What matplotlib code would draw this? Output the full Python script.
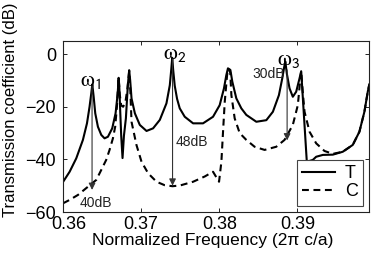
import matplotlib
matplotlib.use('Agg')
import matplotlib.pyplot as plt
from matplotlib.transforms import ScaledTranslation

plt.rcParams.update({'font.family': ['Liberation Sans', 'DejaVu Sans'], 'mathtext.fontset': 'stix'})

# transmission T (solid)
t_freq = [0.36000, 0.36085, 0.36170, 0.36255, 0.36307, 0.36340, 0.36362, 0.36375, 0.36392, 0.36413,
          0.36447, 0.36490, 0.36532, 0.36575, 0.36630, 0.36673, 0.36700, 0.36712, 0.36720, 0.36732,
          0.36745, 0.36762, 0.36780, 0.36805, 0.36830, 0.36847, 0.36860, 0.36877, 0.36920, 0.36983,
          0.37069, 0.37153, 0.37239, 0.37324, 0.37367, 0.37385, 0.37398, 0.37410, 0.37430, 0.37460,
          0.37494, 0.37558, 0.37665, 0.37792, 0.37920, 0.38005, 0.38060, 0.38090, 0.38111, 0.38142,
          0.38167, 0.38218, 0.38282, 0.38346, 0.38474, 0.38602, 0.38686, 0.38763, 0.38806, 0.38830,
          0.38845, 0.38865, 0.38899, 0.38941, 0.38984, 0.39027, 0.39048, 0.39120, 0.39197, 0.39240,
          0.39325, 0.39453, 0.39580, 0.39708, 0.39793, 0.39857, 0.39900, 0.39920]
t_db = [-48.6, -44.7, -39.6, -32.6, -26.3, -20.0, -14.9, -11.5, -16.0, -22.5,
        -27.6, -30.7, -32.0, -31.4, -28.2, -22.5, -15.0, -9.0, -12.0, -21.3,
        -31.0, -39.5, -31.0, -24.4, -11.8, -6.1, -10.0, -16.8, -22.5, -26.9,
        -29.2, -28.2, -25.0, -18.7, -11.8, -6.0, -1.4, -6.0, -12.0, -17.0,
        -20.6, -23.8, -26.3, -26.3, -23.8, -19.4, -13.0, -8.0, -5.4, -6.0,
        -10.5, -16.8, -20.6, -23.1, -25.7, -25.1, -21.9, -15.6, -9.2, -5.0,
        -2.8, -7.5, -13.0, -16.2, -14.3, -9.2, -6.5, -40.9, -40.2, -39.0,
        -38.3, -38.2, -37.1, -34.5, -29.5, -21.9, -14.3, -11.5]

# C (dashed)
c_freq = [0.36000, 0.36085, 0.36192, 0.36319, 0.36426, 0.36490, 0.36553, 0.36596, 0.36639, 0.36668,
          0.36690, 0.36705, 0.36712, 0.36725, 0.36745, 0.36770, 0.36800, 0.36825, 0.36847, 0.36862,
          0.36877, 0.36940, 0.37005, 0.37090, 0.37197, 0.37300, 0.37402, 0.37500, 0.37665, 0.37814,
          0.37920, 0.37997, 0.38027, 0.38048, 0.38070, 0.38100, 0.38115, 0.38140, 0.38155, 0.38197,
          0.38261, 0.38346, 0.38452, 0.38580, 0.38729, 0.38835, 0.38941, 0.39005, 0.39035, 0.39048,
          0.39070, 0.39091, 0.39155, 0.39240, 0.39346, 0.39453, 0.39580, 0.39708, 0.39793, 0.39857,
          0.39900, 0.39920]
c_db = [-56.7, -55.4, -53.5, -50.4, -47.8, -44.0, -40.2, -36.4, -32.0, -27.6,
        -20.0, -12.0, -9.0, -15.0, -19.5, -20.0, -18.0, -13.0, -6.5, -14.0,
        -25.7, -34.5, -40.9, -45.3, -48.5, -49.8, -50.2, -49.9, -48.5, -46.5,
        -44.7, -48.5, -40.9, -29.5, -18.1, -8.0, -5.5, -7.0, -15.6, -24.4,
        -30.0, -32.6, -35.2, -36.4, -35.2, -32.6, -26.9, -19.4, -10.0, -6.5,
        -15.0, -21.9, -29.5, -33.9, -36.8, -37.9, -37.1, -34.5, -29.5, -21.9,
        -14.3, -11.5]

# contrast arrows: (freq, from dB, to dB, label, label x, label y)
arrows = [(0.36372, -12.0, -51.6, '40dB', 0.36415, -56.6),
          (0.37402, -1.6, -50.0, '48dB', 0.37644, -33.5),
          (0.38868, -6.0, -32.8, '30dB', 0.38631, -7.6)]
peaks = [(r'$\mathrm{\omega}_\mathsf{1}$', 0.36355, -10.0),
         (r'$\mathrm{\omega}_\mathsf{2}$', 0.37428, 0.2),
         (r'$\mathrm{\omega}_\mathsf{3}$', 0.38890, -1.9)]

fig = plt.figure(figsize=(3.74, 2.61), dpi=100)
ax = fig.add_axes([0.1684, 0.1877, 0.8191, 0.6553])
ax.plot(t_freq, t_db, color='black', lw=1.5, label='T')
ax.plot(c_freq, c_db, color='black', lw=1.5, ls=(0, (3.3, 2.2)), label='C')
for f, y0, y1, lab, lx, ly in arrows:
    ax.annotate('', xy=(f, y1), xytext=(f, y0),
                arrowprops=dict(arrowstyle='-|>', color='#333333', lw=0.8, mutation_scale=10,
                                shrinkA=0, shrinkB=0))
    ax.text(lx, ly, lab, ha='center', va='center', fontsize=10, color='#222222')
for lab, x, y in peaks:
    ax.text(x, y, lab, ha='center', va='center', fontsize=16)

ax.set_xlim(0.36, 0.3992)
ax.set_ylim(-60, 5)
ax.set_xticks([0.36, 0.37, 0.38, 0.39])
ax.set_xticklabels(['0.36', '0.37', '0.38', '0.39'])
ax.set_yticks([-60, -40, -20, 0])
ax.tick_params(direction='in', top=True, right=True, labelsize=13, length=3, width=0.6)
ax.tick_params(axis='x', pad=3)
ax.tick_params(axis='y', pad=5)
# first x label sits a little right of its tick, as in the original
first = ax.get_xticklabels()[0]
first.set_transform(first.get_transform() + ScaledTranslation(6 / 100, 0, fig.dpi_scale_trans))
for s in ax.spines.values():
    s.set_linewidth(0.8)
    s.set_color('#222222')
ax.set_xlabel('Normalized Frequency (2\u03c0 c/a)', fontsize=12.5)
ax.xaxis.set_label_coords(0.488, -0.12)
ax.set_ylabel('Transmission coefficient (dB)', fontsize=12)
ax.yaxis.set_label_coords(-0.147, 0.596)
leg = ax.legend(loc='lower right', bbox_to_anchor=(0.98, 0.037), fontsize=13, fancybox=False,
                framealpha=1, edgecolor='#444444', handlelength=1.8, borderpad=0.3, labelspacing=0.05,
                handletextpad=0.55, borderaxespad=0)
leg.get_frame().set_linewidth(0.8)
plt.savefig('out.png', dpi=100)
plt.close()
